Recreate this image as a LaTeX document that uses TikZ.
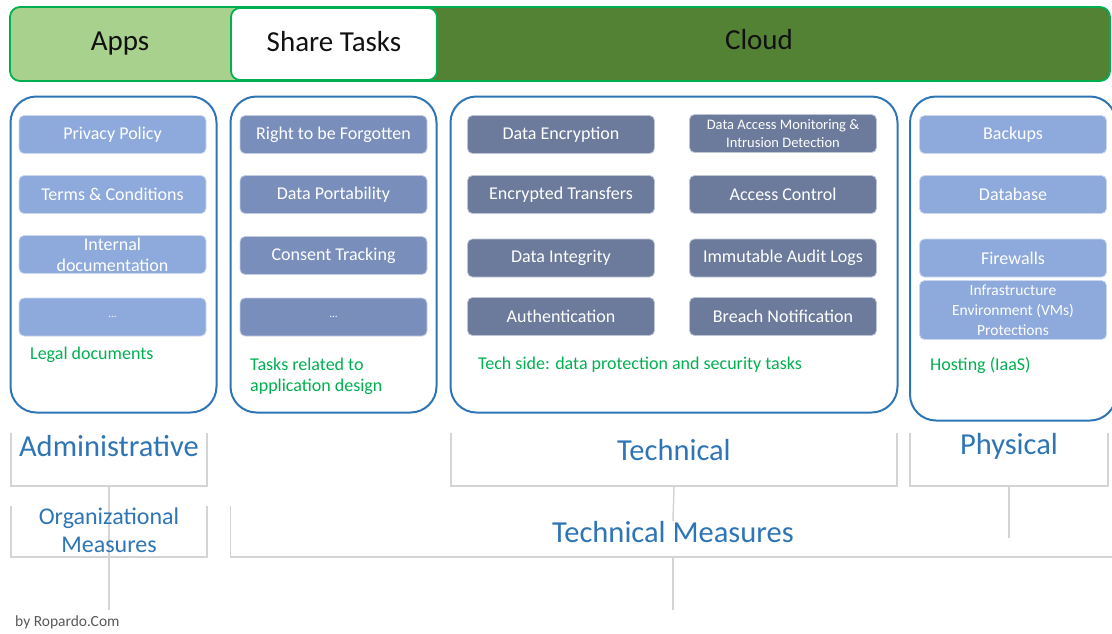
\documentclass[tikz,border=0pt]{standalone}
\usepackage{fontspec}
\setmainfont{Carlito}
\usepackage{xcolor}
\usepackage{tikz}
\usetikzlibrary{positioning,calc}
\definecolor{appsgr}{HTML}{A9D18E}
\definecolor{cloudgr}{HTML}{548235}
\definecolor{barline}{HTML}{00B050}
\definecolor{panelbl}{HTML}{2E75B6}
\definecolor{boxlt}{HTML}{8EA9DB}
\definecolor{boxmd}{HTML}{7A8EBC}
\definecolor{boxdk}{HTML}{6C7B9B}
\definecolor{notegr}{HTML}{00B050}
\definecolor{rulegr}{HTML}{D4D4D4}
\definecolor{headbl}{HTML}{2E75B6}
\definecolor{mute}{HTML}{595959}
\definecolor{ink}{HTML}{111111}

\begin{document}
\begin{tikzpicture}[x=1pt,y=-1pt,
  every node/.style={font=\fontsize{18}{21}\selectfont,inner sep=0pt},
  title/.style={font=\fontsize{29}{32}\selectfont,text=ink,text height=21pt,text depth=7pt},
  panel/.style={draw=panelbl,line width=2pt,rounded corners=26pt},
  item/.style={rounded corners=5pt,minimum width=187pt,minimum height=38pt,text=white,align=center,draw=white!55!#1,line width=0.8pt,fill=#1},
  note/.style={text=notegr,anchor=west,align=left},
  head/.style={text=headbl,font=\fontsize{30.5}{34}\selectfont,align=center},
  frame/.style={minimum height=53pt},
  rule/.style={draw=rulegr,line width=1.5pt}]
  \useasboundingbox (0,0) rectangle (1112,633);
  % top bar
  \fill[appsgr,rounded corners=10pt] (10,7) rectangle (330,81);
  \fill[cloudgr,rounded corners=10pt] (420,7) rectangle (1110,81);
  \draw[barline,line width=1.8pt,rounded corners=10pt] (10,7) rectangle (1110,81);
  \node[title,draw=barline,line width=1.8pt,fill=white,rounded corners=9pt,minimum width=206pt,minimum height=72pt] (share) at (334,44) {Share Tasks};
  \node[title] (apps) at (120,43) {Apps};
  \node[title] (cloud) at (759,42) {Cloud};

  % panels
  \node[panel,minimum width=206pt,minimum height=316pt] (legal) at (113.5,254.5) {};
  \node[panel,minimum width=206pt,minimum height=316pt] (design) at (333.5,254.5) {};
  \node[panel,minimum width=447pt,minimum height=316pt] (techside) at (674,254.5) {};
  \node[panel,minimum width=206pt,minimum height=324pt] (hosting) at (1013,258.5) {};

  % legal documents
  \node[item=boxlt] (privacy) at (112.5,134.5) {Privacy Policy};
  \node[item=boxlt] (terms) at (112.5,194.5) {Terms \& Conditions};
  \node[item=boxlt] (internal) at (112.5,254.5) {Internal\\documentation};
  \node[item=boxlt] (legalmore) at (112.5,317) {\fontsize{11}{12}\selectfont ...};
  \node[note] (legalnote) at (30,355) {Legal documents};

  % application design
  \node[item=boxmd] (forgotten) at (333.5,134.5) {Right to be Forgotten};
  \node[item=boxmd] (portability) at (333.5,194.5) {Data Portability};
  \node[item=boxmd] (consent) at (333.5,255.5) {Consent Tracking};
  \node[item=boxmd] (designmore) at (333.5,317) {\fontsize{11}{12}\selectfont ...};
  \node[note] (designnote) at (250,376) {Tasks related to\\application design};

  % tech side
  \node[item=boxdk] (encrypt) at (561,134.5) {Data Encryption};
  \node[item=boxdk] (transfers) at (561,194.5) {Encrypted Transfers};
  \node[item=boxdk] (integrity) at (561,258) {Data Integrity};
  \node[item=boxdk] (authn) at (561,316.5) {Authentication};
  \node[item=boxdk,font=\fontsize{14.5}{18}\selectfont] (monitor) at (783,133.5) {Data Access Monitoring \&\\Intrusion Detection};
  \node[item=boxdk] (access) at (783,194.5) {Access Control};
  \node[item=boxdk] (audit) at (783,258) {Immutable Audit Logs};
  \node[item=boxdk] (breach) at (783,316.5) {Breach Notification};
  \node[note] (technote) at (478,365) {Tech side: data protection and security tasks};

  % hosting
  \node[item=boxlt] (backups) at (1013,134.5) {Backups};
  \node[item=boxlt] (database) at (1013,194.5) {Database};
  \node[item=boxlt] (firewalls) at (1013,258) {Firewalls};
  \node[item=boxlt,minimum height=59pt,font=\fontsize{15.5}{20}\selectfont] (infra) at (1013,310) {Infrastructure\\Environment (VMs)\\Protections};
  \node[note] (hostnote) at (930,365) {Hosting (IaaS)};

  % measures below
  \node[frame,minimum width=196pt] (adminbox) at (109,459.5) {};
  \node[frame,minimum width=446pt] (techbox) at (674,459.5) {};
  \node[frame,minimum width=198pt] (physbox) at (1009,459.5) {};
  \node[frame,minimum width=196pt,minimum height=51pt] (orgbox) at (109,531.5) {};
  \node[frame,minimum width=885pt,minimum height=51pt] (techmbox) at (673,531.5) {};
  \coordinate (orgend) at (109,610);
  \coordinate (physend) at (1009,538);
  \coordinate (techmend) at (673,610);

  \draw[rule] (adminbox.north west) |- (adminbox.south east) -- (adminbox.north east);
  \draw[rule] (techbox.north west) |- (techbox.south east) -- (techbox.north east);
  \draw[rule] (physbox.north west) |- (physbox.south east) -- (physbox.north east);
  \draw[rule] (orgbox.north west) |- (orgbox.south east) -- (orgbox.north east);
  \draw[rule] (techmbox.north west) |- (techmbox.south east);
  \draw[rule] (adminbox.south) -- (orgend);
  \draw[rule] (physbox.south) -- (physend);
  \draw[rule] (techmbox.south) -- (techmend);

  \node[head] (admin) at (109,446) {Administrative};
  \node[head] (technical) at (674,450) {Technical};
  \node[head] (physical) at (1009,446) {Physical};
  \node[head,font=\fontsize{24}{28}\selectfont] (org) at (109,530) {Organizational\\Measures};
  \node[head,fill=white] (techm) at (673,532) {Technical Measures};
  \draw[rule] (techbox.south) -- (techm.north);

  \node[text=mute,font=\fontsize{15.5}{17}\selectfont,anchor=west] (credit) at (15,622) {by Ropardo.Com};
\end{tikzpicture}
\end{document}
